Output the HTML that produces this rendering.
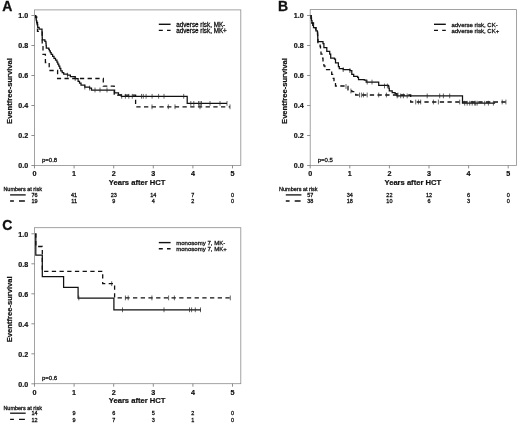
<!DOCTYPE html>
<html><head><meta charset="utf-8"><title>Figure</title>
<style>
html,body{margin:0;padding:0;background:#fff;}
body{width:520px;height:425px;overflow:hidden;font-family:"Liberation Sans",sans-serif;}
svg{display:block;filter:blur(0.5px);}
text{fill:#111;} .t{stroke:#111;stroke-width:0.28px;} .b{stroke:#111;stroke-width:0.2px;}
</style></head><body>
<svg width="520" height="425" viewBox="0 0 520 425">
<rect width="520" height="425" fill="#fff"/>
<g transform="translate(0,0)">
<rect x="34.5" y="9.9" width="206.3" height="155.5" fill="none" stroke="#8c8c8c" stroke-width="0.8"/>
<line x1="31.4" x2="34.5" y1="165.5" y2="165.5" stroke="#7a7a7a" stroke-width="0.85"/>
<text x="28.3" y="168.4" text-anchor="end" font-size="7.15" font-weight="bold" class="b" font-family="Liberation Sans, sans-serif">0.0</text>
<line x1="31.4" x2="34.5" y1="135.5" y2="135.5" stroke="#7a7a7a" stroke-width="0.85"/>
<text x="28.3" y="138.4" text-anchor="end" font-size="7.15" font-weight="bold" class="b" font-family="Liberation Sans, sans-serif">0.2</text>
<line x1="31.4" x2="34.5" y1="105.5" y2="105.5" stroke="#7a7a7a" stroke-width="0.85"/>
<text x="28.3" y="108.4" text-anchor="end" font-size="7.15" font-weight="bold" class="b" font-family="Liberation Sans, sans-serif">0.4</text>
<line x1="31.4" x2="34.5" y1="75.5" y2="75.5" stroke="#7a7a7a" stroke-width="0.85"/>
<text x="28.3" y="78.4" text-anchor="end" font-size="7.15" font-weight="bold" class="b" font-family="Liberation Sans, sans-serif">0.6</text>
<line x1="31.4" x2="34.5" y1="45.5" y2="45.5" stroke="#7a7a7a" stroke-width="0.85"/>
<text x="28.3" y="48.4" text-anchor="end" font-size="7.15" font-weight="bold" class="b" font-family="Liberation Sans, sans-serif">0.8</text>
<line x1="31.4" x2="34.5" y1="15.5" y2="15.5" stroke="#7a7a7a" stroke-width="0.85"/>
<text x="28.3" y="18.4" text-anchor="end" font-size="7.15" font-weight="bold" class="b" font-family="Liberation Sans, sans-serif">1.0</text>
<line x1="34.5" x2="34.5" y1="165.4" y2="168.4" stroke="#7a7a7a" stroke-width="0.85"/>
<text x="34.5" y="176.35" text-anchor="middle" font-size="7.2" font-weight="bold" class="b" font-family="Liberation Sans, sans-serif">0</text>
<line x1="74.1" x2="74.1" y1="165.4" y2="168.4" stroke="#7a7a7a" stroke-width="0.85"/>
<text x="74.1" y="176.35" text-anchor="middle" font-size="7.2" font-weight="bold" class="b" font-family="Liberation Sans, sans-serif">1</text>
<line x1="113.7" x2="113.7" y1="165.4" y2="168.4" stroke="#7a7a7a" stroke-width="0.85"/>
<text x="113.7" y="176.35" text-anchor="middle" font-size="7.2" font-weight="bold" class="b" font-family="Liberation Sans, sans-serif">2</text>
<line x1="153.3" x2="153.3" y1="165.4" y2="168.4" stroke="#7a7a7a" stroke-width="0.85"/>
<text x="153.3" y="176.35" text-anchor="middle" font-size="7.2" font-weight="bold" class="b" font-family="Liberation Sans, sans-serif">3</text>
<line x1="192.9" x2="192.9" y1="165.4" y2="168.4" stroke="#7a7a7a" stroke-width="0.85"/>
<text x="192.9" y="176.35" text-anchor="middle" font-size="7.2" font-weight="bold" class="b" font-family="Liberation Sans, sans-serif">4</text>
<line x1="232.5" x2="232.5" y1="165.4" y2="168.4" stroke="#7a7a7a" stroke-width="0.85"/>
<text x="232.5" y="176.35" text-anchor="middle" font-size="7.2" font-weight="bold" class="b" font-family="Liberation Sans, sans-serif">5</text>
<text x="137.1" y="185.2" text-anchor="middle" font-size="7.6" font-weight="bold" class="b" font-family="Liberation Sans, sans-serif">Years after HCT</text>
<text transform="translate(12,91) rotate(-90)" text-anchor="middle" font-size="7.6" font-weight="bold" class="b" font-family="Liberation Sans, sans-serif">Eventfree-survival</text>
<text x="2.3" y="11.2" font-size="14" font-weight="bold" stroke="#111" stroke-width="0.3" font-family="Liberation Sans, sans-serif">A</text>
<text x="42" y="161.6" font-size="6" class="t" font-family="Liberation Sans, sans-serif">p=0.8</text>
<line x1="158.8" x2="170.6" y1="24.3" y2="24.3" stroke="#111" stroke-width="1.4"/>
<line x1="158.8" x2="170.6" y1="30.4" y2="30.4" stroke="#111" stroke-width="1.4" stroke-dasharray="4,4.2"/>
<text x="176.2" y="26.6" font-size="6.3" class="t" font-family="Liberation Sans, sans-serif">adverse risk, MK-</text>
<text x="176.2" y="32.7" font-size="6.3" class="t" font-family="Liberation Sans, sans-serif">adverse risk, MK+</text>
<path d="M35.0,15.6 L35.6,15.6 L35.6,17.0 L36.7,17.0 L36.7,22.5 L37.5,22.5 L37.5,27.3 L37.5,31.4 L42.2,31.4 L42.2,46.7 L43.0,46.7 L43.0,54.4 L45.4,54.4 L45.4,62.5 L49.2,62.5 L49.2,70.5 L56.9,70.5 L57.6,70.5 L57.6,78.5 L103.3,78.5 L103.3,86.2 L114.2,86.2 L114.2,95.2 L135.6,95.2 L135.6,106.8 L230.0,106.8" fill="none" stroke="#111" stroke-width="1.3" stroke-dasharray="4.3,3.4"/>
<path d="M35.0,15.6 L35.6,15.6 L35.6,17.0 L36.0,17.0 L36.0,18.8 L36.3,18.8 L36.3,20.7 L36.7,20.7 L36.7,22.5 L37.2,22.5 L37.2,24.9 L37.7,24.9 L37.7,27.3 L39.1,27.3 L39.1,29.2 L42.0,29.2 L42.0,31.6 L42.1,31.6 L42.1,33.6 L42.1,33.6 L42.1,35.7 L42.2,35.7 L42.2,37.8 L42.3,37.8 L42.3,39.8 L44.9,39.8 L44.9,41.3 L45.9,41.3 L45.9,43.2 L46.1,43.2 L46.1,45.6 L46.3,45.6 L46.3,48.0 L48.8,48.0 L48.8,49.4 L49.4,49.4 L49.4,50.8 L50.3,50.8 L50.3,52.6 L51.2,52.6 L51.2,54.4 L52.6,54.4 L52.6,56.3 L54.0,56.3 L54.0,58.3 L55.5,58.3 L55.5,60.2 L56.9,60.2 L56.9,62.1 L57.8,62.1 L57.8,64.0 L58.8,64.0 L58.8,66.0 L59.8,66.0 L59.8,68.4 L60.8,68.4 L60.8,70.8 L62.2,70.8 L62.2,72.5 L63.7,72.5 L63.7,74.2 L67.5,74.2 L67.5,75.2 L70.4,75.2 L70.4,76.5 L75.2,76.5 L75.2,78.5 L78.1,78.5 L78.1,81.3 L79.5,81.3 L79.5,83.2 L81.0,83.2 L81.0,85.2 L84.8,85.2 L84.8,87.1 L89.6,87.1 L89.6,88.1 L91.5,88.1 L91.5,90.0 L114.4,90.0 L114.6,90.0 L114.6,92.9 L118.5,92.9 L118.5,94.8 L121.3,94.8 L121.3,96.3 L187.2,96.3 L187.2,103.4 L227.0,103.4" fill="none" stroke="#111" stroke-width="1.25"/>
<path d="M121.7,93.9V98.7M125.4,93.9V98.7M128.8,93.9V98.7M132.3,93.9V98.7M141.5,93.9V98.7M143.3,93.9V98.7M146.1,93.9V98.7M152.1,93.9V98.7M158.6,93.9V98.7M164.0,93.9V98.7M183.7,93.9V98.7M190.8,101.0V105.8M193.8,101.0V105.8M198.5,101.0V105.8M200.0,101.0V105.8M201.5,101.0V105.8M210.0,101.0V105.8M220.0,101.0V105.8M227.0,101.0V105.8M67.5,72.8V77.6M75.2,76.1V80.9M84.8,84.7V89.5M89.6,85.7V90.5M95.0,87.6V92.4M100.0,87.6V92.4M107.0,87.6V92.4M152.0,104.4V109.2M168.3,104.4V109.2M175.0,104.4V109.2M200.0,104.4V109.2M230.0,104.4V109.2" fill="none" stroke="#222" stroke-width="0.7"/>
<text x="3.4" y="191.4" font-size="5.5" class="t" font-family="Liberation Sans, sans-serif">Numbers at risk</text>
<line x1="10.1" x2="25.7" y1="194.9" y2="194.9" stroke="#111" stroke-width="1.3"/>
<path d="M10.1,201H13.9M19,201H24.9" stroke="#111" stroke-width="1.3"/>
<text x="34.5" y="197" text-anchor="middle" font-size="5.5" class="t" font-family="Liberation Sans, sans-serif">76</text>
<text x="34.5" y="203.4" text-anchor="middle" font-size="5.5" class="t" font-family="Liberation Sans, sans-serif">19</text>
<text x="74.1" y="197" text-anchor="middle" font-size="5.5" class="t" font-family="Liberation Sans, sans-serif">41</text>
<text x="74.1" y="203.4" text-anchor="middle" font-size="5.5" class="t" font-family="Liberation Sans, sans-serif">11</text>
<text x="113.7" y="197" text-anchor="middle" font-size="5.5" class="t" font-family="Liberation Sans, sans-serif">23</text>
<text x="113.7" y="203.4" text-anchor="middle" font-size="5.5" class="t" font-family="Liberation Sans, sans-serif">9</text>
<text x="153.3" y="197" text-anchor="middle" font-size="5.5" class="t" font-family="Liberation Sans, sans-serif">14</text>
<text x="153.3" y="203.4" text-anchor="middle" font-size="5.5" class="t" font-family="Liberation Sans, sans-serif">4</text>
<text x="192.9" y="197" text-anchor="middle" font-size="5.5" class="t" font-family="Liberation Sans, sans-serif">7</text>
<text x="192.9" y="203.4" text-anchor="middle" font-size="5.5" class="t" font-family="Liberation Sans, sans-serif">2</text>
<text x="232.5" y="197" text-anchor="middle" font-size="5.5" class="t" font-family="Liberation Sans, sans-serif">0</text>
<text x="232.5" y="203.4" text-anchor="middle" font-size="5.5" class="t" font-family="Liberation Sans, sans-serif">0</text>
</g>
<g transform="translate(275.7,0)">
<rect x="34.5" y="9.6" width="206.3" height="155.8" fill="none" stroke="#8c8c8c" stroke-width="0.8"/>
<line x1="31.4" x2="34.5" y1="165.5" y2="165.5" stroke="#7a7a7a" stroke-width="0.85"/>
<text x="28.0" y="168.4" text-anchor="end" font-size="7.15" font-weight="bold" class="b" font-family="Liberation Sans, sans-serif">0.0</text>
<line x1="31.4" x2="34.5" y1="135.5" y2="135.5" stroke="#7a7a7a" stroke-width="0.85"/>
<text x="28.0" y="138.4" text-anchor="end" font-size="7.15" font-weight="bold" class="b" font-family="Liberation Sans, sans-serif">0.2</text>
<line x1="31.4" x2="34.5" y1="105.5" y2="105.5" stroke="#7a7a7a" stroke-width="0.85"/>
<text x="28.0" y="108.4" text-anchor="end" font-size="7.15" font-weight="bold" class="b" font-family="Liberation Sans, sans-serif">0.4</text>
<line x1="31.4" x2="34.5" y1="75.5" y2="75.5" stroke="#7a7a7a" stroke-width="0.85"/>
<text x="28.0" y="78.4" text-anchor="end" font-size="7.15" font-weight="bold" class="b" font-family="Liberation Sans, sans-serif">0.6</text>
<line x1="31.4" x2="34.5" y1="45.5" y2="45.5" stroke="#7a7a7a" stroke-width="0.85"/>
<text x="28.0" y="48.4" text-anchor="end" font-size="7.15" font-weight="bold" class="b" font-family="Liberation Sans, sans-serif">0.8</text>
<line x1="31.4" x2="34.5" y1="15.5" y2="15.5" stroke="#7a7a7a" stroke-width="0.85"/>
<text x="28.0" y="18.4" text-anchor="end" font-size="7.15" font-weight="bold" class="b" font-family="Liberation Sans, sans-serif">1.0</text>
<line x1="34.5" x2="34.5" y1="165.4" y2="168.4" stroke="#7a7a7a" stroke-width="0.85"/>
<text x="34.5" y="176.35" text-anchor="middle" font-size="7.2" font-weight="bold" class="b" font-family="Liberation Sans, sans-serif">0</text>
<line x1="74.1" x2="74.1" y1="165.4" y2="168.4" stroke="#7a7a7a" stroke-width="0.85"/>
<text x="74.1" y="176.35" text-anchor="middle" font-size="7.2" font-weight="bold" class="b" font-family="Liberation Sans, sans-serif">1</text>
<line x1="113.7" x2="113.7" y1="165.4" y2="168.4" stroke="#7a7a7a" stroke-width="0.85"/>
<text x="113.7" y="176.35" text-anchor="middle" font-size="7.2" font-weight="bold" class="b" font-family="Liberation Sans, sans-serif">2</text>
<line x1="153.3" x2="153.3" y1="165.4" y2="168.4" stroke="#7a7a7a" stroke-width="0.85"/>
<text x="153.3" y="176.35" text-anchor="middle" font-size="7.2" font-weight="bold" class="b" font-family="Liberation Sans, sans-serif">3</text>
<line x1="192.9" x2="192.9" y1="165.4" y2="168.4" stroke="#7a7a7a" stroke-width="0.85"/>
<text x="192.9" y="176.35" text-anchor="middle" font-size="7.2" font-weight="bold" class="b" font-family="Liberation Sans, sans-serif">4</text>
<line x1="232.5" x2="232.5" y1="165.4" y2="168.4" stroke="#7a7a7a" stroke-width="0.85"/>
<text x="232.5" y="176.35" text-anchor="middle" font-size="7.2" font-weight="bold" class="b" font-family="Liberation Sans, sans-serif">5</text>
<text x="137.1" y="185.2" text-anchor="middle" font-size="7.6" font-weight="bold" class="b" font-family="Liberation Sans, sans-serif">Years after HCT</text>
<text transform="translate(11.2,91) rotate(-90)" text-anchor="middle" font-size="7.6" font-weight="bold" class="b" font-family="Liberation Sans, sans-serif">Eventfree-survival</text>
<text x="2.3" y="11.2" font-size="14" font-weight="bold" stroke="#111" stroke-width="0.3" font-family="Liberation Sans, sans-serif">B</text>
<text x="42" y="161.6" font-size="6" class="t" font-family="Liberation Sans, sans-serif">p=0.5</text>
<line x1="158.3" x2="170.1" y1="24.3" y2="24.3" stroke="#111" stroke-width="1.4"/>
<line x1="158.3" x2="170.1" y1="30.4" y2="30.4" stroke="#111" stroke-width="1.4" stroke-dasharray="4,4.2"/>
<text x="175.7" y="26.6" font-size="6.05" class="t" font-family="Liberation Sans, sans-serif">adverse risk, CK-</text>
<text x="175.7" y="32.7" font-size="6.05" class="t" font-family="Liberation Sans, sans-serif">adverse risk, CK+</text>
<path d="M34.8,15.7 L35.5,15.7 L35.5,19.4 L36.3,19.4 L36.3,23.0 L37.8,23.0 L37.8,27.7 L40.2,27.7 L40.2,30.8 L41.7,30.8 L41.7,31.5 L41.9,31.5 L41.9,35.2 L42.0,35.2 L42.0,39.0 L42.2,39.0 L42.2,42.7 L44.4,42.7 L44.4,46.5 L44.8,46.5 L44.8,50.4 L45.3,50.4 L45.3,54.2 L46.3,54.2 L46.3,58.1 L47.3,58.1 L47.3,62.0 L48.2,62.0 L48.2,65.8 L49.2,65.8 L49.2,69.6 L55.0,69.6 L55.0,70.6 L56.0,70.6 L56.0,74.4 L56.9,74.4 L56.9,78.3 L58.3,78.3 L58.3,82.2 L59.8,82.2 L59.8,86.0 L70.3,86.0 L70.3,86.5 L72.3,86.5 L72.3,89.8 L76.1,89.8 L76.1,91.7 L80.0,91.7 L80.0,95.0 L135.0,95.0 L135.0,102.0 L231.0,102.0" fill="none" stroke="#111" stroke-width="1.3" stroke-dasharray="4.3,3.4"/>
<path d="M34.8,15.7 L35.3,15.7 L35.3,18.1 L35.8,18.1 L35.8,20.6 L36.3,20.6 L36.3,23.0 L37.0,23.0 L37.0,25.4 L37.8,25.4 L37.8,27.7 L40.2,27.7 L40.2,30.8 L41.7,30.8 L41.7,31.5 L41.8,31.5 L41.8,34.0 L42.0,34.0 L42.0,36.6 L42.1,36.6 L42.1,39.2 L42.2,39.2 L42.2,41.7 L47.3,41.7 L47.3,43.7 L48.2,43.7 L48.2,47.5 L51.1,47.5 L51.1,51.3 L54.0,51.3 L54.0,54.2 L55.0,54.2 L55.0,58.1 L58.8,58.1 L58.8,59.0 L59.8,59.0 L59.8,62.9 L62.7,62.9 L62.7,66.7 L63.6,66.7 L63.6,68.7 L67.5,68.7 L67.5,69.6 L74.2,69.6 L74.2,70.6 L76.1,70.6 L76.1,74.4 L78.0,74.4 L78.0,76.3 L81.9,76.3 L81.9,77.3 L82.8,77.3 L82.8,79.6 L88.6,79.6 L88.6,80.2 L90.5,80.2 L90.5,82.1 L102.0,82.1 L103.0,82.1 L103.0,85.4 L112.7,85.4 L112.7,86.0 L113.2,86.0 L113.2,88.4 L113.6,88.4 L113.6,90.8 L116.5,90.8 L116.5,92.7 L119.4,92.7 L119.4,93.7 L121.3,93.7 L121.3,95.9 L186.8,95.9 L186.8,103.2 L219.4,103.2" fill="none" stroke="#111" stroke-width="1.25"/>
<path d="M67.5,67.2V72.0M74.2,68.2V73.0M91.5,79.7V84.5M96.3,79.7V84.5M108.8,83.6V88.4M111.7,83.6V88.4M121.5,93.5V98.3M125.0,93.5V98.3M127.7,93.5V98.3M131.5,93.5V98.3M151.5,93.5V98.3M164.0,93.5V98.3M167.7,93.5V98.3M174.0,93.5V98.3M189.0,100.8V105.6M191.5,100.8V105.6M194.0,100.8V105.6M196.5,100.8V105.6M199.0,100.8V105.6M200.0,100.8V105.6M201.5,100.8V105.6M209.0,100.8V105.6M212.7,100.8V105.6M217.7,100.8V105.6M70.3,84.1V88.9M75.2,88.6V93.4M83.8,92.6V97.4M85.7,92.6V97.4M87.7,92.6V97.4M91.5,92.6V97.4M103.0,92.6V97.4M110.7,92.6V97.4M122.3,92.6V97.4M140.0,99.6V104.4M142.7,99.6V104.4M145.0,99.6V104.4M157.7,99.6V104.4M162.7,99.6V104.4M184.0,99.6V104.4M226.5,99.6V104.4M230.2,99.6V104.4" fill="none" stroke="#222" stroke-width="0.7"/>
<text x="3.4" y="191.4" font-size="5.5" class="t" font-family="Liberation Sans, sans-serif">Numbers at risk</text>
<line x1="10.1" x2="25.7" y1="194.9" y2="194.9" stroke="#111" stroke-width="1.3"/>
<path d="M10.1,201H13.9M19,201H24.9" stroke="#111" stroke-width="1.3"/>
<text x="34.5" y="197" text-anchor="middle" font-size="5.5" class="t" font-family="Liberation Sans, sans-serif">57</text>
<text x="34.5" y="203.4" text-anchor="middle" font-size="5.5" class="t" font-family="Liberation Sans, sans-serif">38</text>
<text x="74.1" y="197" text-anchor="middle" font-size="5.5" class="t" font-family="Liberation Sans, sans-serif">34</text>
<text x="74.1" y="203.4" text-anchor="middle" font-size="5.5" class="t" font-family="Liberation Sans, sans-serif">18</text>
<text x="113.7" y="197" text-anchor="middle" font-size="5.5" class="t" font-family="Liberation Sans, sans-serif">22</text>
<text x="113.7" y="203.4" text-anchor="middle" font-size="5.5" class="t" font-family="Liberation Sans, sans-serif">10</text>
<text x="153.3" y="197" text-anchor="middle" font-size="5.5" class="t" font-family="Liberation Sans, sans-serif">12</text>
<text x="153.3" y="203.4" text-anchor="middle" font-size="5.5" class="t" font-family="Liberation Sans, sans-serif">6</text>
<text x="192.9" y="197" text-anchor="middle" font-size="5.5" class="t" font-family="Liberation Sans, sans-serif">6</text>
<text x="192.9" y="203.4" text-anchor="middle" font-size="5.5" class="t" font-family="Liberation Sans, sans-serif">3</text>
<text x="232.5" y="197" text-anchor="middle" font-size="5.5" class="t" font-family="Liberation Sans, sans-serif">0</text>
<text x="232.5" y="203.4" text-anchor="middle" font-size="5.5" class="t" font-family="Liberation Sans, sans-serif">0</text>
</g>
<g transform="translate(0,218.3)">
<rect x="34.5" y="9.4" width="206.3" height="156.0" fill="none" stroke="#8c8c8c" stroke-width="0.8"/>
<line x1="31.4" x2="34.5" y1="165.5" y2="165.5" stroke="#7a7a7a" stroke-width="0.85"/>
<text x="28.3" y="168.4" text-anchor="end" font-size="7.15" font-weight="bold" class="b" font-family="Liberation Sans, sans-serif">0.0</text>
<line x1="31.4" x2="34.5" y1="135.5" y2="135.5" stroke="#7a7a7a" stroke-width="0.85"/>
<text x="28.3" y="138.4" text-anchor="end" font-size="7.15" font-weight="bold" class="b" font-family="Liberation Sans, sans-serif">0.2</text>
<line x1="31.4" x2="34.5" y1="105.5" y2="105.5" stroke="#7a7a7a" stroke-width="0.85"/>
<text x="28.3" y="108.4" text-anchor="end" font-size="7.15" font-weight="bold" class="b" font-family="Liberation Sans, sans-serif">0.4</text>
<line x1="31.4" x2="34.5" y1="75.5" y2="75.5" stroke="#7a7a7a" stroke-width="0.85"/>
<text x="28.3" y="78.4" text-anchor="end" font-size="7.15" font-weight="bold" class="b" font-family="Liberation Sans, sans-serif">0.6</text>
<line x1="31.4" x2="34.5" y1="45.5" y2="45.5" stroke="#7a7a7a" stroke-width="0.85"/>
<text x="28.3" y="48.4" text-anchor="end" font-size="7.15" font-weight="bold" class="b" font-family="Liberation Sans, sans-serif">0.8</text>
<line x1="31.4" x2="34.5" y1="15.5" y2="15.5" stroke="#7a7a7a" stroke-width="0.85"/>
<text x="28.3" y="18.4" text-anchor="end" font-size="7.15" font-weight="bold" class="b" font-family="Liberation Sans, sans-serif">1.0</text>
<line x1="34.5" x2="34.5" y1="165.4" y2="168.4" stroke="#7a7a7a" stroke-width="0.85"/>
<text x="34.5" y="176.35" text-anchor="middle" font-size="7.2" font-weight="bold" class="b" font-family="Liberation Sans, sans-serif">0</text>
<line x1="74.1" x2="74.1" y1="165.4" y2="168.4" stroke="#7a7a7a" stroke-width="0.85"/>
<text x="74.1" y="176.35" text-anchor="middle" font-size="7.2" font-weight="bold" class="b" font-family="Liberation Sans, sans-serif">1</text>
<line x1="113.7" x2="113.7" y1="165.4" y2="168.4" stroke="#7a7a7a" stroke-width="0.85"/>
<text x="113.7" y="176.35" text-anchor="middle" font-size="7.2" font-weight="bold" class="b" font-family="Liberation Sans, sans-serif">2</text>
<line x1="153.3" x2="153.3" y1="165.4" y2="168.4" stroke="#7a7a7a" stroke-width="0.85"/>
<text x="153.3" y="176.35" text-anchor="middle" font-size="7.2" font-weight="bold" class="b" font-family="Liberation Sans, sans-serif">3</text>
<line x1="192.9" x2="192.9" y1="165.4" y2="168.4" stroke="#7a7a7a" stroke-width="0.85"/>
<text x="192.9" y="176.35" text-anchor="middle" font-size="7.2" font-weight="bold" class="b" font-family="Liberation Sans, sans-serif">4</text>
<line x1="232.5" x2="232.5" y1="165.4" y2="168.4" stroke="#7a7a7a" stroke-width="0.85"/>
<text x="232.5" y="176.35" text-anchor="middle" font-size="7.2" font-weight="bold" class="b" font-family="Liberation Sans, sans-serif">5</text>
<text x="137.1" y="185.2" text-anchor="middle" font-size="7.6" font-weight="bold" class="b" font-family="Liberation Sans, sans-serif">Years after HCT</text>
<text transform="translate(12,91) rotate(-90)" text-anchor="middle" font-size="7.6" font-weight="bold" class="b" font-family="Liberation Sans, sans-serif">Eventfree-survival</text>
<text x="2.3" y="11.2" font-size="14" font-weight="bold" stroke="#111" stroke-width="0.3" font-family="Liberation Sans, sans-serif">C</text>
<text x="42" y="161.6" font-size="6" class="t" font-family="Liberation Sans, sans-serif">p=0.6</text>
<line x1="158.8" x2="170.6" y1="24.3" y2="24.3" stroke="#111" stroke-width="1.4"/>
<line x1="158.8" x2="170.6" y1="30.4" y2="30.4" stroke="#111" stroke-width="1.4" stroke-dasharray="4,4.2"/>
<text x="176.2" y="26.6" font-size="6.06" class="t" font-family="Liberation Sans, sans-serif">monosomy 7, MK-</text>
<text x="176.2" y="32.7" font-size="6.06" class="t" font-family="Liberation Sans, sans-serif">monosomy 7, MK+</text>
<path d="M35.2,15.7 L35.8,15.7 L35.8,28.2 L41.6,28.2 L42.3,28.2 L42.3,53.0 L102.7,53.0 L102.7,65.4 L114.6,65.4 L114.6,79.6 L231.0,79.6" fill="none" stroke="#111" stroke-width="1.3" stroke-dasharray="4.3,3.4"/>
<path d="M35.2,15.7 L35.8,15.7 L35.8,36.9 L42.3,36.9 L42.3,58.3 L63.6,58.3 L63.6,69.0 L78.1,69.0 L78.1,79.7 L113.9,79.7 L113.9,91.5 L200.9,91.5" fill="none" stroke="#111" stroke-width="1.25"/>
<path d="M78.8,77.3V82.1M122.5,89.1V93.9M164.0,89.1V93.9M189.5,89.1V93.9M191.6,89.1V93.9M195.3,89.1V93.9M200.5,89.1V93.9M111.7,63.0V67.8M125.4,77.2V82.0M128.2,77.2V82.0M151.9,77.2V82.0M168.6,77.2V82.0M174.4,77.2V82.0M230.3,77.2V82.0" fill="none" stroke="#222" stroke-width="0.7"/>
<text x="3.4" y="191.4" font-size="5.5" class="t" font-family="Liberation Sans, sans-serif">Numbers at risk</text>
<line x1="10.1" x2="25.7" y1="194.9" y2="194.9" stroke="#111" stroke-width="1.3"/>
<path d="M10.1,201H13.9M19,201H24.9" stroke="#111" stroke-width="1.3"/>
<text x="34.5" y="197" text-anchor="middle" font-size="5.5" class="t" font-family="Liberation Sans, sans-serif">14</text>
<text x="34.5" y="203.4" text-anchor="middle" font-size="5.5" class="t" font-family="Liberation Sans, sans-serif">12</text>
<text x="74.1" y="197" text-anchor="middle" font-size="5.5" class="t" font-family="Liberation Sans, sans-serif">9</text>
<text x="74.1" y="203.4" text-anchor="middle" font-size="5.5" class="t" font-family="Liberation Sans, sans-serif">9</text>
<text x="113.7" y="197" text-anchor="middle" font-size="5.5" class="t" font-family="Liberation Sans, sans-serif">6</text>
<text x="113.7" y="203.4" text-anchor="middle" font-size="5.5" class="t" font-family="Liberation Sans, sans-serif">7</text>
<text x="153.3" y="197" text-anchor="middle" font-size="5.5" class="t" font-family="Liberation Sans, sans-serif">5</text>
<text x="153.3" y="203.4" text-anchor="middle" font-size="5.5" class="t" font-family="Liberation Sans, sans-serif">3</text>
<text x="192.9" y="197" text-anchor="middle" font-size="5.5" class="t" font-family="Liberation Sans, sans-serif">2</text>
<text x="192.9" y="203.4" text-anchor="middle" font-size="5.5" class="t" font-family="Liberation Sans, sans-serif">1</text>
<text x="232.5" y="197" text-anchor="middle" font-size="5.5" class="t" font-family="Liberation Sans, sans-serif">0</text>
<text x="232.5" y="203.4" text-anchor="middle" font-size="5.5" class="t" font-family="Liberation Sans, sans-serif">0</text>
</g>
</svg>
</body></html>
